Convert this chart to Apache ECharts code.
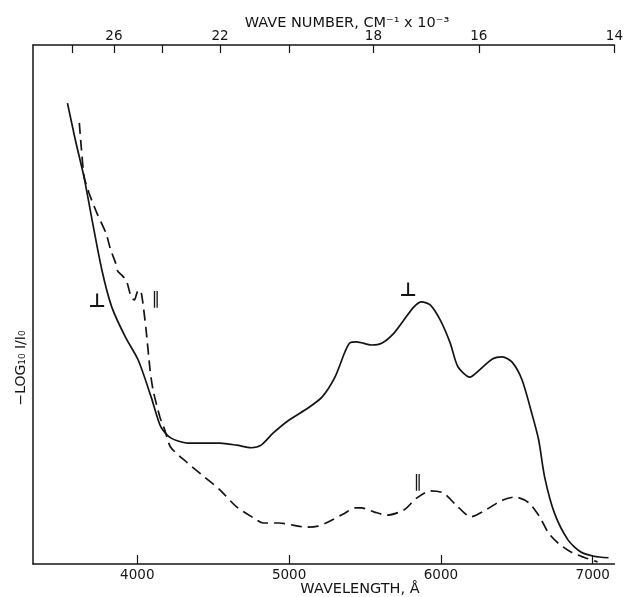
<!DOCTYPE html>
<html>
<head>
<meta charset="utf-8">
<script src="https://cdn.jsdelivr.net/npm/echarts@6/dist/echarts.min.js"></script>
<style>html,body{margin:0;padding:0;background:#fff}#c{width:626px;height:597px}</style>
</head>
<body>
<div id="c"></div>
<script>
// Perpendicular (⊥) polarisation — solid curve
const wavelengthPerp = [3540,3592,3650,3702,3767,3832,3922,4006,4091,4155,4220,4330,4544,4654,4751,4816,4894,4998,5127,5218,5302,5367,5400,5445,5542,5613,5691,5756,5821,5873,5931,5996,6061,6112,6190,6255,6339,6404,6469,6534,6598,6644,6683,6748,6838,6922,7007,7104];
const absorbPerp     = [88.8,81.7,74.4,66.3,56.6,49.5,43.7,39.3,32.2,26.4,24.3,23.3,23.3,22.9,22.4,22.9,25.2,27.7,30.1,32.2,36.0,40.8,42.6,42.8,42.2,42.6,44.5,47.0,49.5,50.5,49.9,47.0,42.6,38.0,36.0,37.4,39.5,39.9,38.9,35.5,29.1,23.9,16.8,9.8,4.6,2.3,1.5,1.2];
// Parallel (∥) polarisation — dashed curve
const wavelengthPar  = [3618,3631,3650,3682,3734,3793,3825,3857,3870,3896,3929,3961,3981,4000,4019,4032,4058,4084,4104,4149,4181,4220,4330,4441,4544,4654,4765,4829,4933,5024,5108,5192,5257,5367,5432,5477,5562,5646,5756,5840,5931,6015,6099,6197,6294,6404,6488,6579,6650,6708,6773,6857,6941,7032];
const absorbPar      = [85.0,80.3,74.6,71.5,67.6,63.8,60.5,58.0,56.5,55.7,54.5,51.3,50.9,52.4,52.8,51.3,45.1,37.4,33.5,28.3,25.8,22.5,19.5,16.8,14.3,11.0,8.9,7.9,7.9,7.5,7.1,7.3,8.1,9.8,10.8,10.8,10.0,9.4,10.4,12.7,14.1,13.7,11.4,9.1,10.4,12.3,12.9,11.8,9.1,6.0,4.0,2.3,1.3,0.4];
// Axis ticks
const wavelengthTicks = [4000,5000,6000,7000];
const waveNumberTicks = [28,26,24,22,20,18,16,14];        // cm^-1 x 10^-3
const waveNumberLabels = [26,22,18,16,14];

const wnToWl = n => 1e5 / n;   // (n x 10^3 cm^-1) -> Angstrom
const xMin = 3313, xMax = wnToWl(14);

const perpData = wavelengthPerp.map((w,i)=>[w,absorbPerp[i]]);
const parData = wavelengthPar.map((w,i)=>[w,absorbPar[i]]);

const FONT = 'DejaVu Sans';
const INK = '#141414';

const chart = echarts.init(document.getElementById('c'), null, {renderer:'canvas'});
chart.setOption({
  animation:false,
  backgroundColor:'#fff',
  grid:{left:33,right:2,top:45,bottom:33,containLabel:false},
  xAxis:[{
    type:'value', position:'bottom', min:xMin, max:xMax,
    axisLine:{show:true,lineStyle:{color:INK,width:1.5}},
    axisTick:{show:true,inside:true,length:9,lineStyle:{color:INK,width:1.2},customValues:wavelengthTicks},
    axisLabel:{show:true,margin:4,fontFamily:FONT,fontSize:13.5,color:INK,customValues:wavelengthTicks,formatter:v=>String(Math.round(v))},
    splitLine:{show:false}
  },{
    type:'value', position:'top', min:xMin, max:xMax,
    axisLine:{show:true,lineStyle:{color:INK,width:1.5}},
    axisTick:{show:true,inside:true,length:8,lineStyle:{color:INK,width:1.2},customValues:waveNumberTicks.map(wnToWl)},
    axisLabel:{show:true,margin:2,fontFamily:FONT,fontSize:13.5,color:INK,customValues:waveNumberLabels.map(wnToWl),formatter:v=>String(Math.round(1e5/v))},
    splitLine:{show:false}
  }],
  yAxis:{
    type:'value', min:0, max:100,
    axisLine:{show:true,lineStyle:{color:INK,width:1.5}},
    axisTick:{show:false}, axisLabel:{show:false}, splitLine:{show:false}
  },
  series:[{
    name:'perp', type:'line', xAxisIndex:0, data:perpData, showSymbol:false, symbol:'none', smooth:0.25,
    lineStyle:{color:INK,width:1.7}
  },{
    name:'par', type:'line', xAxisIndex:0, data:parData, showSymbol:false, symbol:'none', smooth:0.25,
    lineStyle:{color:INK,width:1.7,type:[11,6]}
  }],
  graphic:[
    {type:'text',x:347,y:23,style:{text:'WAVE NUMBER, CM⁻¹ x 10⁻³',font:'14.5px "DejaVu Sans"',fill:INK,align:'center',verticalAlign:'middle'}},
    {type:'text',x:360,y:589,style:{text:'WAVELENGTH, Å',font:'14.5px "DejaVu Sans"',fill:INK,align:'center',verticalAlign:'middle'}},
    {type:'text',x:21,y:368,rotation:Math.PI/2,style:{text:'−LOG₁₀ I/I₀',font:'14px "DejaVu Sans"',fill:INK,align:'center',verticalAlign:'middle'}},
    {type:'text',x:97,y:302,style:{text:'⊥',font:'bold 19px "DejaVu Sans"',fill:INK,align:'center',verticalAlign:'middle'}},
    {type:'text',x:156,y:300,style:{text:'∥',font:'17px "DejaVu Sans"',fill:INK,align:'center',verticalAlign:'middle'}},
    {type:'text',x:408,y:291,style:{text:'⊥',font:'bold 19px "DejaVu Sans"',fill:INK,align:'center',verticalAlign:'middle'}},
    {type:'text',x:418,y:483,style:{text:'∥',font:'17px "DejaVu Sans"',fill:INK,align:'center',verticalAlign:'middle'}}
  ]
});
</script>
</body>
</html>
